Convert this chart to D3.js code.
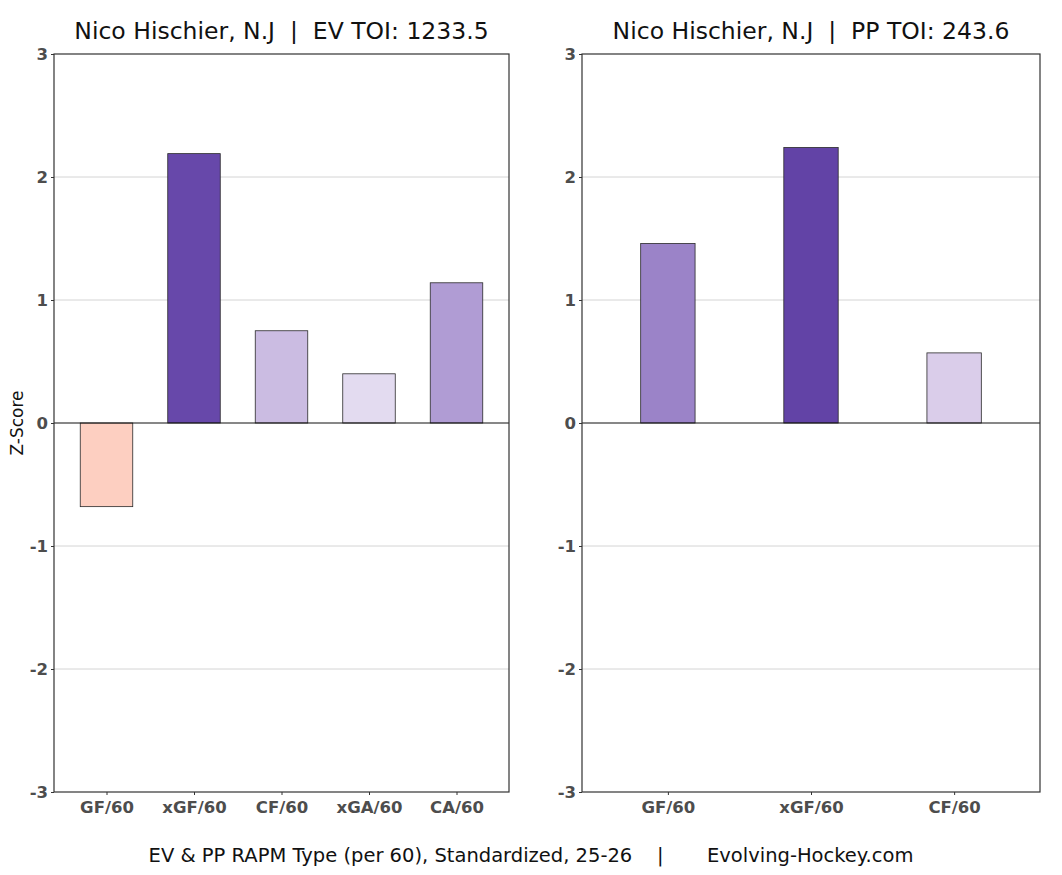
<!DOCTYPE html>
<html>
<head>
<meta charset="utf-8">
<script src="https://cdn.jsdelivr.net/npm/d3@7"></script>
<style>
  body { margin: 0; background: #fff; }
  svg { display: block; font-family: "DejaVu Sans", sans-serif; }
</style>
</head>
<body>
<svg id="chart" width="1062" height="875"></svg>
<script>
// Data
const evTitle = "Nico Hischier, N.J  |  EV TOI: 1233.5"
const evCategories = ["GF/60", "xGF/60", "CF/60", "xGA/60", "CA/60"]
const evValues = [-0.68, 2.19, 0.75, 0.40, 1.14]
const evColors = ["#fdcfc1", "#6748aa", "#cbbce2", "#e3dbf0", "#b09cd4"]

const ppTitle = "Nico Hischier, N.J  |  PP TOI: 243.6"
const ppCategories = ["GF/60", "xGF/60", "CF/60"]
const ppValues = [1.46, 2.24, 0.57]
const ppColors = ["#9b83c8", "#6243a6", "#dacdea"]

const yTicks = [-3, -2, -1, 0, 1, 2, 3]
const caption = "EV & PP RAPM Type (per 60), Standardized, 25-26    |       Evolving-Hockey.com"

const TOP = 54
const BOTTOM = 792

const svg = d3.select("#chart")

const y = d3.scaleLinear().domain([-3, 3]).range([BOTTOM, TOP])

function panel({ left, right, title, cats, vals, colors, barWidth, yLabel }) {
  const g = svg.append("g")

  // ggplot-style discrete expansion: 0.6 units on each side
  const n = cats.length
  const unit = (right - left) / (n - 1 + 1.2)
  const x = d3.scalePoint().domain(cats).range([left + 0.6 * unit, right - 0.6 * unit])

  // gridlines
  g.selectAll(".grid")
    .data(yTicks.filter((t) => t !== 0 && t !== -3 && t !== 3))
    .join("line")
    .attr("x1", left).attr("x2", right)
    .attr("y1", (d) => y(d)).attr("y2", (d) => y(d))
    .attr("stroke", "#cfcfcf").attr("stroke-width", 0.9)

  // bars
  const w = barWidth * unit
  g.selectAll(".bar")
    .data(vals)
    .join("rect")
    .attr("x", (d, i) => x(cats[i]) - w / 2)
    .attr("width", w)
    .attr("y", (d) => y(Math.max(0, d)))
    .attr("height", (d) => Math.abs(y(d) - y(0)))
    .attr("fill", (d, i) => colors[i])
    .attr("stroke", "#2a2a2a")
    .attr("stroke-width", 0.8)

  // zero line
  g.append("line")
    .attr("x1", left).attr("x2", right)
    .attr("y1", y(0)).attr("y2", y(0))
    .attr("stroke", "#111").attr("stroke-width", 1.2)

  // panel border
  g.append("rect")
    .attr("x", left).attr("y", TOP)
    .attr("width", right - left).attr("height", BOTTOM - TOP)
    .attr("fill", "none").attr("stroke", "#333").attr("stroke-width", 1.2)

  // y axis
  const yAxis = g.append("g")
    .attr("transform", `translate(${left},0)`)
    .call(d3.axisLeft(y).tickValues(yTicks).tickSize(3).tickPadding(3).tickFormat((d) => String(d)))
  yAxis.select(".domain").remove()
  yAxis.selectAll(".tick line").attr("stroke", "#333")
  yAxis.selectAll(".tick text")
    .attr("fill", "#4d4d4d").attr("font-size", 16.5).attr("font-weight", "bold")
    .attr("font-family", "DejaVu Sans")

  // x axis
  const xAxis = g.append("g")
    .attr("transform", `translate(0,${BOTTOM})`)
    .call(d3.axisBottom(x).tickSize(3).tickPadding(3))
  xAxis.select(".domain").remove()
  xAxis.selectAll(".tick line").attr("stroke", "#333")
  xAxis.selectAll(".tick text")
    .attr("fill", "#4d4d4d").attr("font-size", 16.5).attr("font-weight", "bold")
    .attr("font-family", "DejaVu Sans")
    .attr("dy", "0.9em")

  // title
  svg.append("text")
    .attr("x", (left + right) / 2).attr("y", 39)
    .attr("text-anchor", "middle")
    .attr("font-size", 23.5).attr("fill", "#111")
    .style("white-space", "pre")
    .text(title)

  if (yLabel) {
    svg.append("text")
      .attr("transform", `translate(23,${(TOP + BOTTOM) / 2}) rotate(-90)`)
      .attr("text-anchor", "middle")
      .attr("font-size", 17).attr("fill", "#111")
      .text(yLabel)
  }
}

panel({ left: 54, right: 509, title: evTitle, cats: evCategories, vals: evValues, colors: evColors, barWidth: 0.6, yLabel: "Z-Score" })
panel({ left: 582, right: 1040, title: ppTitle, cats: ppCategories, vals: ppValues, colors: ppColors, barWidth: 0.38 })

svg.append("text")
  .attr("x", 531).attr("y", 862)
  .attr("text-anchor", "middle")
  .attr("font-size", 19.5).attr("fill", "#111")
  .style("white-space", "pre")
  .text(caption)
</script>
</body>
</html>
